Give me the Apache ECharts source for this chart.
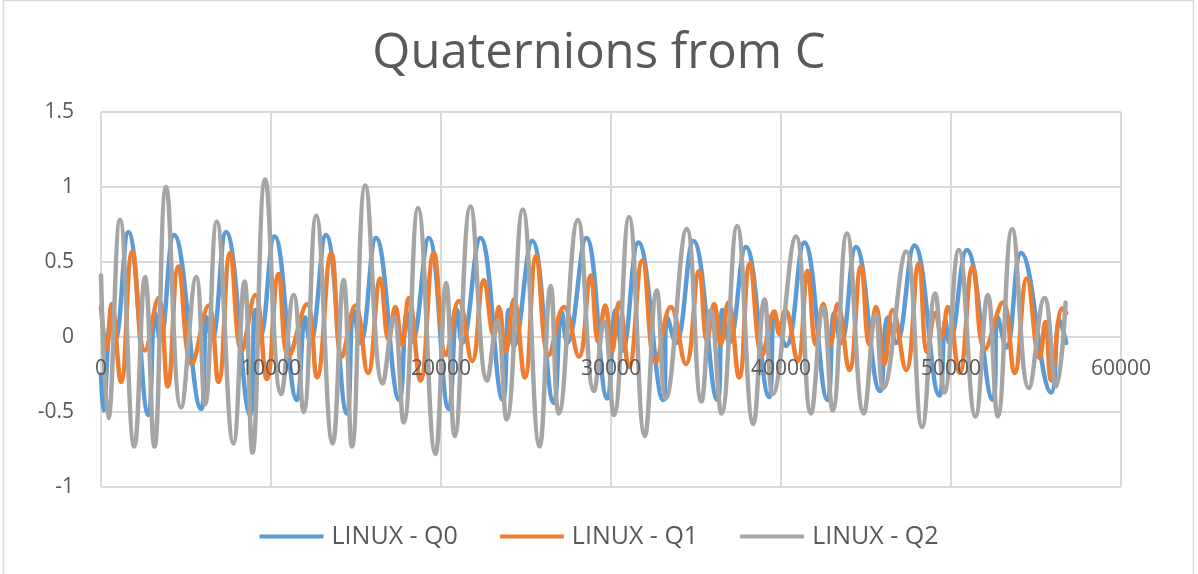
<!DOCTYPE html>
<html>
<head>
<meta charset="utf-8">
<title>Quaternions from C</title>
<script src="https://cdn.jsdelivr.net/npm/echarts@6/dist/echarts.min.js"></script>
<style>
  html, body { margin: 0; padding: 0; background: #fff; }
  #chart { width: 1198px; height: 574px; }
</style>
</head>
<body>
<div id="chart"></div>
<script>
// 数据：各条曲线的极值点 [x, y]
const seriesNames = ["LINUX - Q0", "LINUX - Q1", "LINUX - Q2"];
const xTicks = [0, 10000, 20000, 30000, 40000, 50000, 60000];
const yTicks = [-1, -0.5, 0, 0.5, 1, 1.5];

const q0 = [
  [0, -0.25], [138, -0.49], [590, 0.13], [825, -0.02], [1610, 0.70], [2790, -0.52],
  [3180, 0.16], [3475, -0.02], [4300, 0.68], [5890, -0.48], [6223, 0.13], [6520, -0.02],
  [7360, 0.70], [8775, -0.52], [9070, 0.18], [9350, 0.0], [10210, 0.67], [11525, -0.42],
  [12015, 0.13], [12300, -0.04], [13233, 0.68], [14470, -0.51], [14860, 0.18], [15255, -0.04],
  [16177, 0.66], [17550, -0.42], [18000, 0.16], [18300, -0.03], [19280, 0.66], [20460, -0.48],
  [20950, 0.18], [21240, -0.04], [22320, 0.66], [23640, -0.42], [23990, 0.18], [24280, -0.06],
  [25365, 0.64], [26640, -0.44], [27093, 0.17], [27426, -0.04], [28547, 0.66], [29784, -0.41],
  [30275, 0.18], [30667, -0.09], [31610, 0.63], [33062, -0.42], [33317, 0.13], [33808, -0.04],
  [34848, 0.64], [36262, -0.42], [36556, 0.18], [36950, -0.04], [37932, 0.60], [39306, -0.40],
  [39660, 0.13], [40288, -0.06], [41367, 0.63], [42741, -0.42], [43134, 0.16], [43530, -0.04],
  [44410, 0.60], [45823, -0.36], [46275, 0.13], [46766, -0.04], [47847, 0.61], [49319, -0.39],
  [49672, 0.11], [49900, -0.04], [50929, 0.58], [52460, -0.42], [52754, 0.13], [53250, -0.07],
  [54128, 0.56], [55895, -0.37], [56386, 0.11], [56780, -0.04]
];

const q1 = [
  [0, 0.20], [330, -0.08], [628, 0.22], [1178, -0.30], [1846, 0.57], [2590, -0.09],
  [3377, 0.26], [3926, -0.33], [4555, 0.47], [5340, -0.18], [6320, 0.21], [6910, -0.30],
  [7597, 0.56], [8280, -0.09], [9070, 0.28], [9758, -0.28], [10445, 0.42], [11034, -0.13],
  [12114, 0.22], [12700, -0.27], [13547, 0.56], [14175, -0.13], [14960, 0.21], [15700, -0.24],
  [16433, 0.39], [16923, -0.02], [17316, 0.20], [17700, -0.05], [18100, 0.26], [18790, -0.29],
  [19575, 0.56], [20300, -0.12], [21047, 0.24], [21830, -0.16], [22520, 0.38], [23108, 0.01],
  [23400, 0.20], [23800, -0.10], [24286, 0.25], [24930, -0.27], [25600, 0.54], [26350, -0.12],
  [27231, 0.20], [28110, -0.13], [28800, 0.41], [29250, -0.03], [29660, 0.21], [30050, -0.10],
  [30470, 0.23], [31060, -0.20], [31845, 0.51], [32630, -0.17], [33514, 0.20], [34397, -0.18],
  [35182, 0.44], [35650, -0.02], [36065, 0.22], [36450, -0.05], [36900, 0.23], [37538, -0.27],
  [38167, 0.49], [38900, -0.12], [39600, 0.17], [39900, 0.02], [40250, 0.18], [40975, -0.16],
  [41563, 0.44], [42050, -0.05], [42486, 0.22], [42900, -0.05], [43330, 0.22], [44017, -0.22],
  [44704, 0.47], [45200, -0.05], [45588, 0.20], [46078, -0.18], [46570, 0.18], [47356, -0.22],
  [48100, 0.49], [48600, -0.10], [49083, 0.16], [49450, 0.0], [49810, 0.20], [50497, -0.24],
  [51282, 0.47], [52000, -0.08], [53049, 0.23], [53736, -0.24], [54462, 0.39], [55208, -0.14],
  [55550, 0.10], [55895, -0.29], [56543, 0.19], [56780, 0.16]
];

const q2 = [
  [0, 0.41], [430, -0.54], [1120, 0.78], [1960, -0.73], [2590, 0.40], [3140, -0.73],
  [3830, 1.00], [4710, -0.47], [5600, 0.40], [6125, -0.45], [6810, 0.77], [7790, -0.71],
  [8440, 0.37], [8910, -0.77], [9660, 1.05], [10600, -0.38], [11330, 0.28], [11920, -0.50],
  [12660, 0.81], [13625, -0.71], [14270, 0.38], [14765, -0.73], [15550, 1.01], [16570, -0.31],
  [17220, 0.13], [17805, -0.57], [18650, 0.86], [19670, -0.78], [20300, 0.36], [20810, -0.66],
  [21735, 0.87], [22715, -0.29], [23300, 0.11], [23860, -0.55], [24810, 0.85], [25800, -0.73],
  [26450, 0.34], [26930, -0.51], [28050, 0.78], [29000, -0.36], [29590, 0.10], [30170, -0.52],
  [31060, 0.80], [31990, -0.66], [32690, 0.31], [33220, -0.41], [34455, 0.72], [35320, -0.43],
  [35870, 0.18], [36500, -0.51], [37420, 0.74], [38370, -0.58], [39030, 0.25], [39520, -0.38],
  [40880, 0.67], [41760, -0.51], [42470, 0.20], [43040, -0.49], [43880, 0.69], [44870, -0.51],
  [45570, 0.15], [46020, -0.34], [47360, 0.57], [48300, -0.60], [49064, 0.29], [49613, -0.37],
  [50457, 0.58], [51439, -0.53], [52165, 0.28], [52754, -0.53], [53598, 0.72], [54580, -0.34],
  [55502, 0.26], [56190, -0.33], [56740, 0.23]
];

const colors = ["#5b9bd5", "#ed7d31", "#a5a5a5"];
const fontFamily = "'Open Sans', 'Noto Sans', sans-serif";

let myChart = echarts.init(document.getElementById("chart"));

function makeSeries(name, data, color) {
  return {
    name: name,
    type: "line",
    data: data,
    smooth: 0.45,
    showSymbol: false,
    symbol: "none",
    color: color,
    lineStyle: { width: 4.5, color: color, cap: "round", join: "round" }
  };
}

let labelStyle = {
  fontFamily: fontFamily,
  fontSize: 21,
  color: "#595959",
  formatter: function (v) { return String(v); }
};

let option = {
  animation: false,
  backgroundColor: "#fff",
  title: {
    text: "Quaternions from C",
    left: "center",
    top: 25,
    textStyle: { fontFamily: fontFamily, fontSize: 49, fontWeight: "normal", color: "#595959" }
  },
  legend: {
    bottom: 20,
    left: "center",
    icon: "rect",
    itemWidth: 64,
    itemHeight: 4,
    itemGap: 42,
    data: seriesNames,
    textStyle: { fontFamily: fontFamily, fontSize: 25, color: "#595959", padding: [0, 0, 0, 3] }
  },
  // grid 0 画曲线；grid 1 只用来把 x 轴标签放在 y=0 的位置（和 Excel 一样）
  grid: [
    { left: 101, right: 77, top: 112, bottom: 87 },
    { left: 101, right: 77, top: 112, bottom: 237 }
  ],
  xAxis: [
    {
      type: "value",
      gridIndex: 0,
      min: xTicks[0],
      max: xTicks[xTicks.length - 1],
      interval: 10000,
      axisLine: { show: false },
      axisTick: { show: false },
      axisLabel: { show: false },
      splitLine: { show: true, lineStyle: { color: "#d9d9d9", width: 2 } }
    },
    {
      type: "value",
      gridIndex: 1,
      z: 10,
      min: xTicks[0],
      max: xTicks[xTicks.length - 1],
      interval: 10000,
      axisLine: { show: false },
      axisTick: { show: false },
      splitLine: { show: false },
      axisLabel: Object.assign({ margin: 22 }, labelStyle)
    }
  ],
  yAxis: [
    {
      type: "value",
      gridIndex: 0,
      min: yTicks[0],
      max: yTicks[yTicks.length - 1],
      interval: 0.5,
      axisLine: { show: false },
      axisTick: { show: false },
      axisLabel: Object.assign({ margin: 27 }, labelStyle),
      splitLine: { show: true, lineStyle: { color: "#d9d9d9", width: 2 } }
    },
    {
      type: "value",
      gridIndex: 1,
      show: false
    }
  ],
  graphic: [
    {
      type: "rect",
      silent: true,
      shape: { x: 3.5, y: 0.5, width: 1190, height: 600 },
      style: { fill: "none", stroke: "#d9d9d9", lineWidth: 1.5 }
    }
  ],
  series: [
    makeSeries(seriesNames[0], q0, colors[0]),
    makeSeries(seriesNames[1], q1, colors[1]),
    makeSeries(seriesNames[2], q2, colors[2])
  ]
};

myChart.setOption(option);

window.addEventListener("resize", function () {
  myChart.resize();
});
</script>
</body>
</html>
